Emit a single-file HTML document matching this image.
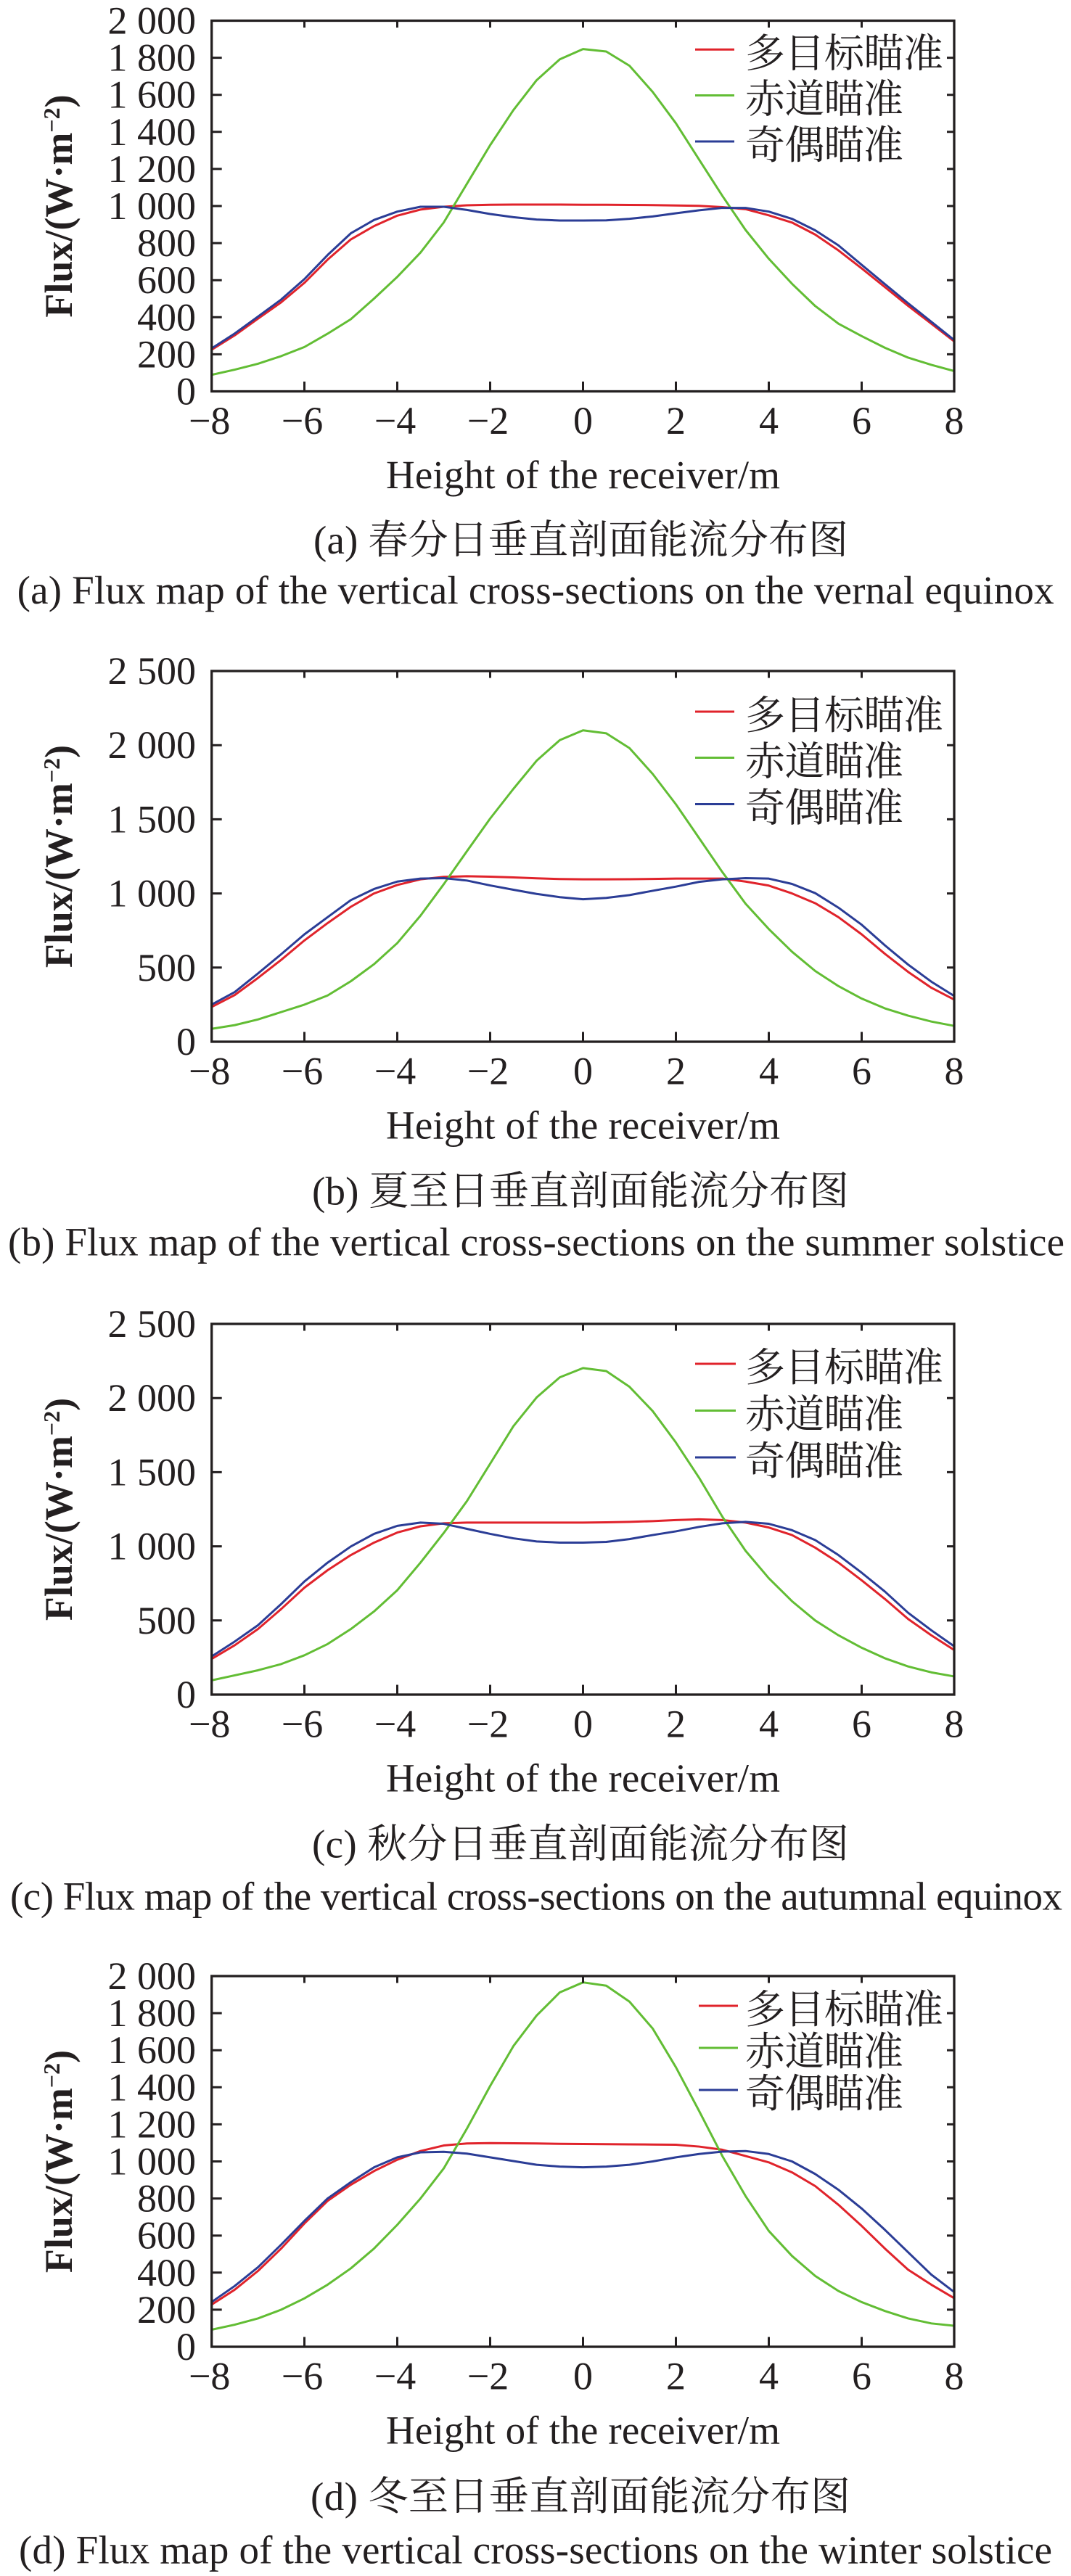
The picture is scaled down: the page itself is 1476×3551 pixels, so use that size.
<!DOCTYPE html>
<html>
<head>
<meta charset="utf-8">
<style>
html,body{margin:0;padding:0;background:#fff;}
svg{display:block;}
text{fill:#231f20;}
.num{font-family:"Liberation Serif",serif;font-size:54px;}
.lab{font-family:"Liberation Serif",serif;font-size:55px;}
.cjk{font-family:"Liberation Serif","Noto Serif CJK SC",serif;font-size:55px;}
.yl{font-family:"Liberation Serif",serif;font-size:54px;font-weight:bold;}
.ax{fill:none;stroke:#231f20;stroke-width:3.3;}
.tk{fill:none;stroke:#231f20;stroke-width:3;}
.r{fill:none;stroke:#e0232b;stroke-width:3;stroke-linejoin:round;}
.g{fill:none;stroke:#62bd34;stroke-width:3;stroke-linejoin:round;}
.b{fill:none;stroke:#2b3d96;stroke-width:3;stroke-linejoin:round;}
</style>
</head>
<body>
<svg width="1476" height="3551" viewBox="0 0 1476 3551" xmlns="http://www.w3.org/2000/svg">
<rect x="0" y="0" width="1476" height="3551" fill="#fff"/>

<!-- ================= Panel (a) ================= -->
<g>
<g transform="translate(803.5 539.5) scale(64 -0.25575)">
<polyline class="r" vector-effect="non-scaling-stroke" points="-8,224 -7.5,302 -7,392 -6.5,480 -6,585 -5.5,710 -5,819 -4.5,891 -4,947 -3.5,980 -3,995 -2.5,1003 -2,1006 -1.5,1007 -1,1007 -0.5,1007 0,1006 0.5,1006 1,1005 1.5,1004 2,1002 2.5,1000 3,993 3.5,982 4,949 4.5,910 5,845 5.5,760 6,663 6.5,562 7,461 7.5,365 8,268"/>
<polyline class="g" vector-effect="non-scaling-stroke" points="-8,89 -7.5,117 -7,149 -6.5,190 -6,239 -5.5,311 -5,389 -4.5,500 -4,617 -3.5,748 -3,910 -2.5,1119 -2,1327 -1.5,1516 -1,1677 -0.5,1790 0,1845 0.5,1832 1,1755 1.5,1614 2,1445 2.5,1249 3,1054 3.5,870 4,715 4.5,580 5,460 5.5,365 6,298 6.5,235 7,182 7.5,143 8,109"/>
<polyline class="b" vector-effect="non-scaling-stroke" points="-8,231 -7.5,312 -7,403 -6.5,495 -6,605 -5.5,735 -5,852 -4.5,924 -4,969 -3.5,995 -3,995 -2.5,978 -2,956 -1.5,939 -1,926 -0.5,921 0,921 0.5,922 1,930 1.5,943 2,960 2.5,976 3,989 3.5,989 4,969 4.5,930 5,868 5.5,787 6,682 6.5,578 7,475 7.5,375 8,275"/>
</g>
<rect class="ax" x="291.7" y="28.5" width="1023.3" height="511"/>
<path class="tk" d="M419.5 539.5V526M547.5 539.5V526M675.5 539.5V526M803.5 539.5V526M931.5 539.5V526M1059.5 539.5V526M1187.5 539.5V526
M419.5 28.5V38M547.5 28.5V38M675.5 28.5V38M803.5 28.5V38M931.5 28.5V38M1059.5 28.5V38M1187.5 28.5V38
M291.7 488.4H305.7M291.7 437.3H305.7M291.7 386.2H305.7M291.7 335.1H305.7M291.7 284H305.7M291.7 232.9H305.7M291.7 181.8H305.7M291.7 130.7H305.7M291.7 79.6H305.7
M1315 488.4H1305M1315 437.3H1305M1315 386.2H1305M1315 335.1H1305M1315 284H1305M1315 232.9H1305M1315 181.8H1305M1315 130.7H1305M1315 79.6H1305"/>
<g class="num" text-anchor="end">
<text x="270" y="557.5">0</text>
<text x="270" y="506.4">200</text>
<text x="270" y="455.3">400</text>
<text x="270" y="404.2">600</text>
<text x="270" y="353.1">800</text>
<text x="270" y="302">1 000</text>
<text x="270" y="250.9">1 200</text>
<text x="270" y="199.8">1 400</text>
<text x="270" y="148.7">1 600</text>
<text x="270" y="97.6">1 800</text>
<text x="270" y="46.5">2 000</text>
</g>
<g class="num" text-anchor="middle">
<text x="288.7" y="598">−8</text>
<text x="416.5" y="598">−6</text>
<text x="544.5" y="598">−4</text>
<text x="672.5" y="598">−2</text>
<text x="803.5" y="598">0</text>
<text x="931.5" y="598">2</text>
<text x="1059.5" y="598">4</text>
<text x="1187.5" y="598">6</text>
<text x="1315" y="598">8</text>
</g>
<text class="yl" transform="translate(99 284) rotate(-90)" text-anchor="middle">Flux/(W·m<tspan font-size="32" dy="-17">−2</tspan><tspan dy="17">)</tspan></text>
<text class="lab" x="532" y="673" textLength="543" lengthAdjust="spacing">Height of the receiver/m</text>
<line class="r" x1="958" y1="68.3" x2="1012" y2="68.3"/>
<line class="g" x1="958" y1="131.5" x2="1012" y2="131.5"/>
<line class="b" x1="958" y1="195" x2="1012" y2="195"/>
<text class="cjk" x="1027" y="92.3" textLength="273" lengthAdjust="spacing">多目标瞄准</text>
<text class="cjk" x="1027" y="155.5" textLength="218" lengthAdjust="spacing">赤道瞄准</text>
<text class="cjk" x="1027" y="219" textLength="218" lengthAdjust="spacing">奇偶瞄准</text>
<text class="cjk" x="432" y="763" textLength="737" lengthAdjust="spacing">(a) 春分日垂直剖面能流分布图</text>
<text class="lab" x="23.6" y="832" textLength="1429" lengthAdjust="spacing">(a) Flux map of the vertical cross-sections on the vernal equinox</text>
</g>

<!-- ================= Panel (b) ================= -->
<g transform="translate(0 896.5)">
<g transform="translate(803.5 539.5) scale(64 -0.2044)">
<polyline class="r" vector-effect="non-scaling-stroke" points="-8,234 -7.5,315 -7,430 -6.5,552 -6,683 -5.5,800 -5,910 -4.5,1000 -4,1057 -3.5,1095 -3,1112 -2.5,1116 -2,1113 -1.5,1108 -1,1102 -0.5,1097 0,1095 0.5,1095 1,1096 1.5,1098 2,1100 2.5,1100 3,1100 3.5,1080 4,1053 4.5,1000 5,934 5.5,840 6,724 6.5,593 7,471 7.5,364 8,283"/>
<polyline class="g" vector-effect="non-scaling-stroke" points="-8,87 -7.5,112 -7,150 -6.5,200 -6,250 -5.5,312 -5,408 -4.5,523 -4,665 -3.5,850 -3,1062 -2.5,1285 -2,1505 -1.5,1705 -1,1895 -0.5,2034 0,2100 0.5,2080 1,1980 1.5,1806 2,1601 2.5,1373 3,1144 3.5,931 4,760 4.5,607 5,477 5.5,375 6,291 6.5,225 7,176 7.5,136 8,106"/>
<polyline class="b" vector-effect="non-scaling-stroke" points="-8,250 -7.5,335 -7,460 -6.5,590 -6,724 -5.5,840 -5,955 -4.5,1030 -4,1080 -3.5,1100 -3,1103 -2.5,1087 -2,1054 -1.5,1025 -1,997 -0.5,975 0,961 0.5,970 1,989 1.5,1018 2,1046 2.5,1078 3,1095 3.5,1103 4,1100 4.5,1064 5,1002 5.5,904 6,789 6.5,650 7,520 7.5,405 8,307"/>
</g>
<rect class="ax" x="291.7" y="28.5" width="1023.3" height="511"/>
<path class="tk" d="M419.5 539.5V526M547.5 539.5V526M675.5 539.5V526M803.5 539.5V526M931.5 539.5V526M1059.5 539.5V526M1187.5 539.5V526
M419.5 28.5V38M547.5 28.5V38M675.5 28.5V38M803.5 28.5V38M931.5 28.5V38M1059.5 28.5V38M1187.5 28.5V38
M291.7 437.3H305.7M291.7 335.1H305.7M291.7 232.9H305.7M291.7 130.7H305.7
M1315 437.3H1305M1315 335.1H1305M1315 232.9H1305M1315 130.7H1305"/>
<g class="num" text-anchor="end">
<text x="270" y="557.5">0</text>
<text x="270" y="455.3">500</text>
<text x="270" y="353.1">1 000</text>
<text x="270" y="250.9">1 500</text>
<text x="270" y="148.7">2 000</text>
<text x="270" y="46.5">2 500</text>
</g>
<g class="num" text-anchor="middle">
<text x="288.7" y="598">−8</text>
<text x="416.5" y="598">−6</text>
<text x="544.5" y="598">−4</text>
<text x="672.5" y="598">−2</text>
<text x="803.5" y="598">0</text>
<text x="931.5" y="598">2</text>
<text x="1059.5" y="598">4</text>
<text x="1187.5" y="598">6</text>
<text x="1315" y="598">8</text>
</g>
<text class="yl" transform="translate(99 284) rotate(-90)" text-anchor="middle">Flux/(W·m<tspan font-size="32" dy="-17">−2</tspan><tspan dy="17">)</tspan></text>
<text class="lab" x="532" y="673" textLength="543" lengthAdjust="spacing">Height of the receiver/m</text>
<line class="r" x1="958" y1="84.5" x2="1012" y2="84.5"/>
<line class="g" x1="958" y1="148" x2="1012" y2="148"/>
<line class="b" x1="958" y1="212" x2="1012" y2="212"/>
<text class="cjk" x="1027" y="108.5" textLength="273" lengthAdjust="spacing">多目标瞄准</text>
<text class="cjk" x="1027" y="172" textLength="218" lengthAdjust="spacing">赤道瞄准</text>
<text class="cjk" x="1027" y="236" textLength="218" lengthAdjust="spacing">奇偶瞄准</text>
<text class="cjk" x="430" y="764" textLength="740" lengthAdjust="spacing">(b) 夏至日垂直剖面能流分布图</text>
<text class="lab" x="11" y="834" textLength="1456" lengthAdjust="spacing">(b) Flux map of the vertical cross-sections on the summer solstice</text>
</g>

<!-- ================= Panel (c) ================= -->
<g transform="translate(0 1796.5)">
<g transform="translate(803.5 539.5) scale(64 -0.2044)">
<polyline class="r" vector-effect="non-scaling-stroke" points="-8,240 -7.5,333 -7,442 -6.5,577 -6,721 -5.5,839 -5,941 -4.5,1025 -4,1093 -3.5,1135 -3,1155 -2.5,1160 -2,1160 -1.5,1160 -1,1160 -0.5,1160 0,1160 0.5,1162 1,1165 1.5,1170 2,1177 2.5,1182 3,1177 3.5,1160 4,1127 4.5,1076 5,991 5.5,890 6,771 6.5,645 7,510 7.5,400 8,299"/>
<polyline class="g" vector-effect="non-scaling-stroke" points="-8,96 -7.5,130 -7,164 -6.5,206 -6,265 -5.5,341 -5,442 -4.5,561 -4,704 -3.5,890 -3,1090 -2.5,1305 -2,1557 -1.5,1810 -1,2004 -0.5,2140 0,2202 0.5,2182 1,2076 1.5,1912 2,1700 2.5,1462 3,1200 3.5,970 4,785 4.5,630 5,500 5.5,400 6,316 6.5,245 7,190 7.5,150 8,122"/>
<polyline class="b" vector-effect="non-scaling-stroke" points="-8,257 -7.5,358 -7,468 -6.5,611 -6,763 -5.5,890 -5,999 -4.5,1084 -4,1138 -3.5,1160 -3,1152 -2.5,1118 -2,1084 -1.5,1054 -1,1033 -0.5,1025 0,1025 0.5,1030 1,1049 1.5,1076 2,1101 2.5,1131 3,1155 3.5,1165 4,1152 4.5,1109 5,1042 5.5,941 6,822 6.5,695 7,552 7.5,434 8,324"/>
</g>
<rect class="ax" x="291.7" y="28.5" width="1023.3" height="511"/>
<path class="tk" d="M419.5 539.5V526M547.5 539.5V526M675.5 539.5V526M803.5 539.5V526M931.5 539.5V526M1059.5 539.5V526M1187.5 539.5V526
M419.5 28.5V38M547.5 28.5V38M675.5 28.5V38M803.5 28.5V38M931.5 28.5V38M1059.5 28.5V38M1187.5 28.5V38
M291.7 437.3H305.7M291.7 335.1H305.7M291.7 232.9H305.7M291.7 130.7H305.7
M1315 437.3H1305M1315 335.1H1305M1315 232.9H1305M1315 130.7H1305"/>
<g class="num" text-anchor="end">
<text x="270" y="557.5">0</text>
<text x="270" y="455.3">500</text>
<text x="270" y="353.1">1 000</text>
<text x="270" y="250.9">1 500</text>
<text x="270" y="148.7">2 000</text>
<text x="270" y="46.5">2 500</text>
</g>
<g class="num" text-anchor="middle">
<text x="288.7" y="598">−8</text>
<text x="416.5" y="598">−6</text>
<text x="544.5" y="598">−4</text>
<text x="672.5" y="598">−2</text>
<text x="803.5" y="598">0</text>
<text x="931.5" y="598">2</text>
<text x="1059.5" y="598">4</text>
<text x="1187.5" y="598">6</text>
<text x="1315" y="598">8</text>
</g>
<text class="yl" transform="translate(99 284) rotate(-90)" text-anchor="middle">Flux/(W·m<tspan font-size="32" dy="-17">−2</tspan><tspan dy="17">)</tspan></text>
<text class="lab" x="532" y="673" textLength="543" lengthAdjust="spacing">Height of the receiver/m</text>
<line class="r" x1="958" y1="83.5" x2="1014" y2="83.5"/>
<line class="g" x1="958" y1="148" x2="1014" y2="148"/>
<line class="b" x1="958" y1="212.5" x2="1014" y2="212.5"/>
<text class="cjk" x="1027" y="107.5" textLength="273" lengthAdjust="spacing">多目标瞄准</text>
<text class="cjk" x="1027" y="172" textLength="218" lengthAdjust="spacing">赤道瞄准</text>
<text class="cjk" x="1027" y="236.5" textLength="218" lengthAdjust="spacing">奇偶瞄准</text>
<text class="cjk" x="430" y="764" textLength="740" lengthAdjust="spacing">(c) 秋分日垂直剖面能流分布图</text>
<text class="lab" x="14" y="836" textLength="1450" lengthAdjust="spacing">(c) Flux map of the vertical cross-sections on the autumnal equinox</text>
</g>

<!-- ================= Panel (d) ================= -->
<g transform="translate(0 2695.5)">
<g transform="translate(803.5 539.5) scale(64 -0.2555)">
<polyline class="r" vector-effect="non-scaling-stroke" points="-8,227 -7.5,308 -7,409 -6.5,530 -6,665 -5.5,787 -5,874 -4.5,948 -4,1009 -3.5,1056 -3,1086 -2.5,1097 -2,1099 -1.5,1098 -1,1097 -0.5,1095 0,1094 0.5,1093 1,1092 1.5,1091 2,1090 2.5,1080 3,1063 3.5,1029 4,995 4.5,941 5,867 5.5,766 6,652 6.5,530 7,416 7.5,335 8,261"/>
<polyline class="g" vector-effect="non-scaling-stroke" points="-8,92 -7.5,119 -7,153 -6.5,200 -6,261 -5.5,335 -5,423 -4.5,530 -4,658 -3.5,800 -3,962 -2.5,1177 -2,1407 -1.5,1622 -1,1787 -0.5,1912 0,1966 0.5,1948 1,1862 1.5,1717 2,1508 2.5,1272 3,1029 3.5,813 4,625 4.5,490 5,382 5.5,301 6,241 6.5,193 7,153 7.5,126 8,113"/>
<polyline class="b" vector-effect="non-scaling-stroke" points="-8,241 -7.5,328 -7,429 -6.5,551 -6,679 -5.5,800 -5,888 -4.5,968 -4,1022 -3.5,1049 -3,1052 -2.5,1042 -2,1022 -1.5,1002 -1,982 -0.5,972 0,968 0.5,972 1,982 1.5,1000 2,1022 2.5,1040 3,1053 3.5,1056 4,1040 4.5,1000 5,932 5.5,847 6,746 6.5,631 7,510 7.5,389 8,294"/>
</g>
<rect class="ax" x="291.7" y="28.5" width="1023.3" height="511"/>
<path class="tk" d="M419.5 539.5V526M547.5 539.5V526M675.5 539.5V526M803.5 539.5V526M931.5 539.5V526M1059.5 539.5V526M1187.5 539.5V526
M419.5 28.5V38M547.5 28.5V38M675.5 28.5V38M803.5 28.5V38M931.5 28.5V38M1059.5 28.5V38M1187.5 28.5V38
M291.7 488.4H305.7M291.7 437.3H305.7M291.7 386.2H305.7M291.7 335.1H305.7M291.7 284H305.7M291.7 232.9H305.7M291.7 181.8H305.7M291.7 130.7H305.7M291.7 79.6H305.7
M1315 488.4H1305M1315 437.3H1305M1315 386.2H1305M1315 335.1H1305M1315 284H1305M1315 232.9H1305M1315 181.8H1305M1315 130.7H1305M1315 79.6H1305"/>
<g class="num" text-anchor="end">
<text x="270" y="557.5">0</text>
<text x="270" y="506.4">200</text>
<text x="270" y="455.3">400</text>
<text x="270" y="404.2">600</text>
<text x="270" y="353.1">800</text>
<text x="270" y="302">1 000</text>
<text x="270" y="250.9">1 200</text>
<text x="270" y="199.8">1 400</text>
<text x="270" y="148.7">1 600</text>
<text x="270" y="97.6">1 800</text>
<text x="270" y="46.5">2 000</text>
</g>
<g class="num" text-anchor="middle">
<text x="288.7" y="598">−8</text>
<text x="416.5" y="598">−6</text>
<text x="544.5" y="598">−4</text>
<text x="672.5" y="598">−2</text>
<text x="803.5" y="598">0</text>
<text x="931.5" y="598">2</text>
<text x="1059.5" y="598">4</text>
<text x="1187.5" y="598">6</text>
<text x="1315" y="598">8</text>
</g>
<text class="yl" transform="translate(99 284) rotate(-90)" text-anchor="middle">Flux/(W·m<tspan font-size="32" dy="-17">−2</tspan><tspan dy="17">)</tspan></text>
<text class="lab" x="532" y="673" textLength="543" lengthAdjust="spacing">Height of the receiver/m</text>
<line class="r" x1="963" y1="69.5" x2="1017" y2="69.5"/>
<line class="g" x1="963" y1="127.5" x2="1017" y2="127.5"/>
<line class="b" x1="963" y1="185.5" x2="1017" y2="185.5"/>
<text class="cjk" x="1027" y="93.5" textLength="273" lengthAdjust="spacing">多目标瞄准</text>
<text class="cjk" x="1027" y="151.5" textLength="218" lengthAdjust="spacing">赤道瞄准</text>
<text class="cjk" x="1027" y="209.5" textLength="218" lengthAdjust="spacing">奇偶瞄准</text>
<text class="cjk" x="428" y="764.5" textLength="744" lengthAdjust="spacing">(d) 冬至日垂直剖面能流分布图</text>
<text class="lab" x="26" y="838" textLength="1424" lengthAdjust="spacing">(d) Flux map of the vertical cross-sections on the winter solstice</text>
</g>
</svg>
</body>
</html>
